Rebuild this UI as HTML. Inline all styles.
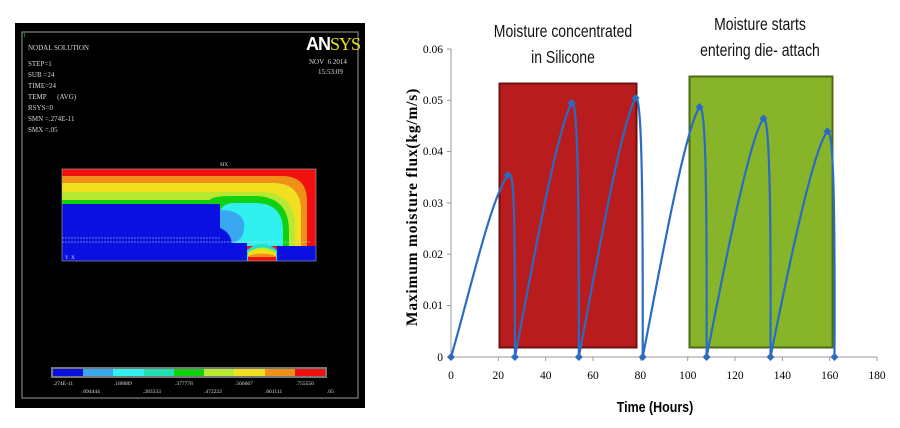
<!DOCTYPE html>
<html><head><meta charset="utf-8"><style>
html,body{margin:0;padding:0;background:#fff;width:900px;height:428px;overflow:hidden}
svg{display:block}
</style></head><body>
<svg width="900" height="428" viewBox="0 0 900 428" xmlns="http://www.w3.org/2000/svg">
<rect x="15" y="23" width="350" height="385" fill="#000"/>
<rect x="22" y="32" width="336" height="366" fill="none" stroke="#9a9a9a" stroke-width="1"/>
<g font-family="Liberation Serif, serif" font-size="7" fill="#d8d8d8">
<text x="23" y="37" fill="#3c3" font-size="6">1</text>
<text x="28" y="50">NODAL SOLUTION</text>
<text x="28" y="66">STEP=1</text>
<text x="28" y="77">SUB =24</text>
<text x="28" y="88">TIME=24</text>
<text x="28" y="99">TEMP&#160;&#160;&#160;&#160;&#160;&#160;(AVG)</text>
<text x="28" y="110">RSYS=0</text>
<text x="28" y="121">SMN =.274E-11</text>
<text x="28" y="132">SMX =.05</text>
<text x="309" y="64">NOV&#160;&#160;6 2014</text>
<text x="318" y="74">15:53:09</text>
<text x="220" y="166" font-size="5">MX</text>
</g>
<text x="306" y="50" font-family="Liberation Sans, sans-serif" font-weight="bold" font-size="18" fill="#fff" letter-spacing="-1">AN<tspan fill="#e8e020" font-weight="normal" font-family="Liberation Serif, serif">SYS</tspan></text>
<rect x="62" y="169" width="254" height="92" fill="#f01010"/>
<path d="M62,176 H282 Q307,176 307,201 V246 H62 Z" fill="#f09018"/>
<path d="M62,183 H273 Q301,183 301,211 V246 H62 Z" fill="#f0e020"/>
<path d="M62,192 H260 Q295,192 295,227 V246 H62 Z" fill="#b8e830"/>
<path d="M62,200 H210 Q212,196 232,196 H254 Q289,196 289,231 V246 H62 Z" fill="#10d010"/>
<path d="M220,212 Q222,203 235,203 H255 Q283,203 283,231 V246 H220 Z" fill="#30f0f0"/>
<path d="M220,210 Q240,210 244,222 Q246,240 232,243 H220 Z" fill="#3aa8f0"/>
<rect x="62" y="204" width="158" height="39" fill="#0a10e0"/>
<path d="M220,228 Q230,232 232,243 H220 Z" fill="#0a10e0"/>
<rect x="62" y="243" width="185" height="18" fill="#0a10e0"/>
<rect x="277" y="246" width="39" height="15" fill="#0a10e0"/>
<path d="M247,261 V250 Q262,238 277,250 V261 Z" fill="#20e0d0"/>
<path d="M248,261 V252 Q262,243 276,252 V261 Z" fill="#c8e820"/>
<path d="M248,261 V253 Q262,247 276,253 V261 Z" fill="#f0e020"/>
<path d="M248,261 V256 Q262,251 276,256 V261 Z" fill="#f09018"/>
<rect x="248" y="257" width="28" height="4" fill="#f01010"/>
<line x1="62" y1="238" x2="220" y2="238" stroke="#ddd" stroke-width="0.6" stroke-dasharray="2,1"/>
<line x1="62" y1="242" x2="310" y2="242" stroke="#ddd" stroke-width="0.6" stroke-dasharray="2,1"/>
<rect x="62" y="169" width="254" height="92" fill="none" stroke="#aaa" stroke-width="0.6"/>
<text x="65" y="259" font-family="Liberation Serif, serif" font-size="5" fill="#ddd">Y&#160;&#160;X</text>
<rect x="51" y="367" width="276" height="11" fill="#777"/>
<g>
<rect x="53" y="369" width="30" height="7" fill="#0a10e0"/>
<rect x="83" y="369" width="30" height="7" fill="#3aa8f0"/>
<rect x="113" y="369" width="31" height="7" fill="#30f0f0"/>
<rect x="144" y="369" width="30" height="7" fill="#20e0b0"/>
<rect x="174" y="369" width="30" height="7" fill="#10d010"/>
<rect x="204" y="369" width="30" height="7" fill="#b8e830"/>
<rect x="234" y="369" width="31" height="7" fill="#f0e020"/>
<rect x="265" y="369" width="30" height="7" fill="#f09018"/>
<rect x="295" y="369" width="30" height="7" fill="#f01010"/>
</g>
<g font-family="Liberation Serif, serif" font-size="5.5" fill="#ddd">
<text x="53" y="385">.274E-11</text><text x="114" y="385">.188889</text><text x="175" y="385">.377778</text><text x="235" y="385">.566667</text><text x="296" y="385">.755556</text>
<text x="82" y="393">.094444</text><text x="143" y="393">.283333</text><text x="204" y="393">.472222</text><text x="265" y="393">.661111</text><text x="327" y="393">.05</text>
</g>
<rect x="499.5" y="83.5" width="137" height="264" fill="#b81c1c" stroke="#6e1010" stroke-width="2"/>
<rect x="689.5" y="76.5" width="143" height="271" fill="#88b42a" stroke="#4e6a18" stroke-width="2"/>
<line x1="451" y1="49" x2="451" y2="357" stroke="#999" stroke-width="1"/>
<line x1="451" y1="357" x2="877" y2="357" stroke="#999" stroke-width="1"/>
<g stroke="#999" stroke-width="1">
<line x1="447" y1="49" x2="451" y2="49"/><line x1="447" y1="100.3" x2="451" y2="100.3"/><line x1="447" y1="151.6" x2="451" y2="151.6"/><line x1="447" y1="202.9" x2="451" y2="202.9"/><line x1="447" y1="254.2" x2="451" y2="254.2"/><line x1="447" y1="305.5" x2="451" y2="305.5"/><line x1="447" y1="357" x2="451" y2="357"/>
<line x1="498.3" y1="357" x2="498.3" y2="361"/><line x1="545.7" y1="357" x2="545.7" y2="361"/><line x1="593" y1="357" x2="593" y2="361"/><line x1="640.4" y1="357" x2="640.4" y2="361"/><line x1="687.7" y1="357" x2="687.7" y2="361"/><line x1="735" y1="357" x2="735" y2="361"/><line x1="782.4" y1="357" x2="782.4" y2="361"/><line x1="829.7" y1="357" x2="829.7" y2="361"/><line x1="877" y1="357" x2="877" y2="361"/>
</g>
<g font-family="Liberation Serif, serif" font-size="11.5" fill="#000" text-anchor="end">
<text x="443" y="53">0.06</text><text x="443" y="104">0.05</text><text x="443" y="155">0.04</text><text x="443" y="207">0.03</text><text x="443" y="258">0.02</text><text x="443" y="309">0.01</text><text x="443" y="361">0</text>
</g>
<g font-family="Liberation Serif, serif" font-size="11.5" fill="#000" text-anchor="middle">
<text x="451" y="379">0</text><text x="498.3" y="379">20</text><text x="545.7" y="379">40</text><text x="593" y="379">60</text><text x="640.4" y="379">80</text><text x="687.7" y="379">100</text><text x="735" y="379">120</text><text x="782.4" y="379">140</text><text x="829.7" y="379">160</text><text x="877" y="379">180</text>
</g>
<text x="655" y="412" font-family="Liberation Sans, sans-serif" font-weight="bold" font-size="15" text-anchor="middle" transform="translate(655 0) scale(0.83 1) translate(-655 0)">Time (Hours)</text>
<text transform="translate(417 207) rotate(-90)" font-family="Liberation Serif, serif" font-weight="bold" font-size="15.5" text-anchor="middle" letter-spacing="0.8">Maximum moisture flux(kg/m/s)</text>
<g font-family="Liberation Sans, sans-serif" font-size="17.5" text-anchor="middle" fill="#111">
<text x="563" y="37" transform="translate(563 0) scale(0.8 1) translate(-563 0)">Moisture concentrated</text>
<text x="563" y="63" transform="translate(563 0) scale(0.8 1) translate(-563 0)">in Silicone</text>
<text x="760" y="30" transform="translate(760 0) scale(0.8 1) translate(-760 0)">Moisture starts</text>
<text x="760" y="56" transform="translate(760 0) scale(0.8 1) translate(-760 0)">entering die- attach</text>
</g>
<path d="M451,357 C468,300 490,200 507.8,174.9 C514,168 515,200 514.9,357
C528,290 556,130 571.7,103.1 C578,98 579,200 578.8,357
C592,290 620,125 635.6,97.9 C642,94 643,200 642.7,357
C656,290 684,130 699.5,107.2 C706,102 707,200 706.6,357
C720,290 748,140 763.4,118.5 C770,114 771,220 770.5,357
C784,290 812,150 827.4,131.3 C834,127 835,220 834.5,357"
fill="none" stroke="#2a6cc4" stroke-width="2.2"/>
<g fill="#2a6cc4">
<path d="M451,353 l4,4 l-4,4 l-4,-4z"/><path d="M507.8,171 l4,4 l-4,4 l-4,-4z"/><path d="M514.9,353 l4,4 l-4,4 l-4,-4z"/>
<path d="M571.7,99 l4,4 l-4,4 l-4,-4z"/><path d="M578.8,353 l4,4 l-4,4 l-4,-4z"/>
<path d="M635.6,94 l4,4 l-4,4 l-4,-4z"/><path d="M642.7,353 l4,4 l-4,4 l-4,-4z"/>
<path d="M699.5,103 l4,4 l-4,4 l-4,-4z"/><path d="M706.6,353 l4,4 l-4,4 l-4,-4z"/>
<path d="M763.4,114.5 l4,4 l-4,4 l-4,-4z"/><path d="M770.5,353 l4,4 l-4,4 l-4,-4z"/>
<path d="M827.4,127.3 l4,4 l-4,4 l-4,-4z"/><path d="M834.5,353 l4,4 l-4,4 l-4,-4z"/>
</g>
</svg>
</body></html>
